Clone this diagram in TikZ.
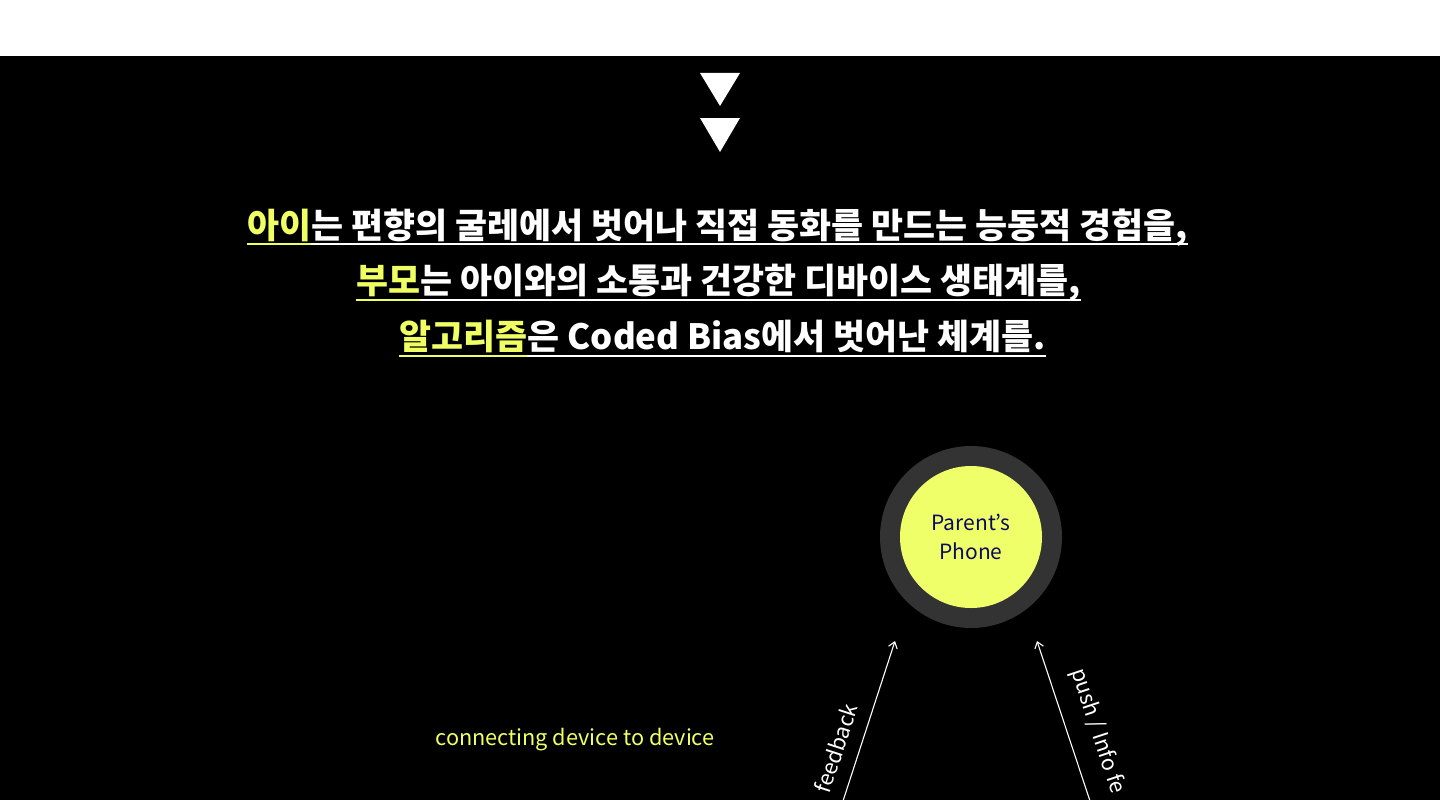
\documentclass[tikz,border=0pt]{standalone}
\usepackage{fontspec}
\setmainfont{Noto Sans CJK KR}
\usetikzlibrary{arrows.meta}
\definecolor{hl}{HTML}{F0FF62}
\definecolor{ringgray}{HTML}{333333}
\definecolor{phoneyellow}{HTML}{EFFF6A}
\definecolor{navy}{HTML}{0B0B5C}
\tikzset{
  headline/.style={inner sep=0pt, anchor=base west, font=\fontsize{34.8}{40}\selectfont\bfseries},
  hlpart/.style={headline, text=hl},
  whpart/.style={headline, text=white},
  uline/.style={line width=1.6pt},
  tri/.style={fill=white},
  flowarrow/.style={draw=white, line width=1.1pt, -{Straight Barb[length=6pt,width=9pt]}},
  arrowlabel/.style={text=white, inner sep=0pt, font=\fontsize{21.5}{25}\selectfont},
}
\begin{document}
\begin{tikzpicture}[x=1pt,y=-1pt]
\useasboundingbox (0,0) rectangle (1440,800);
\clip (0,0) rectangle (1440,800);
\fill[white] (0,0) rectangle (1440,56);
\fill[black] (0,56) rectangle (1440,800);
% triangles
\fill[tri] (700,73) -- (740,73) -- (720,106) -- cycle;
\fill[tri] (700,118) -- (740,118) -- (720,152) -- cycle;
% headline
\node[hlpart] (a1) at (247,238) {아이};
\node[whpart] (b1) at (a1.base east) {는 편향의 굴레에서 벗어나 직접 동화를 만드는 능동적 경험을,};
\node[hlpart] (a2) at (356,293) {부모};
\node[whpart] (b2) at (a2.base east) {는 아이와의 소통과 건강한 디바이스 생태계를,};
\node[hlpart] (a3) at (399,349) {알고리즘};
\node[whpart] (b3) at (a3.base east) {은 Coded Bias에서 벗어난 체계를.};
\draw[uline, hl] (a1.west |- 0,244) -- (a1.east |- 0,244);
\draw[uline, white] (b1.west |- 0,244) -- (b1.east |- 0,244);
\draw[uline, hl] (a2.west |- 0,300) -- (a2.east |- 0,300);
\draw[uline, white] (b2.west |- 0,300) -- (b2.east |- 0,300);
\draw[uline, hl] (a3.west |- 0,356) -- (a3.east |- 0,356);
\draw[uline, white] (b3.west |- 0,356) -- (b3.east |- 0,356);
% parent's phone
\node[circle, fill=ringgray, minimum size=182pt, inner sep=0pt] (ring) at (971,537) {};
\node[circle, fill=phoneyellow, minimum size=142pt, inner sep=0pt, text=navy, align=center,
      font=\fontsize{21}{29}\selectfont] (phone) at (ring.center) {Parent’s\\Phone};
% connectors
\coordinate (fbS) at (843,801);
\coordinate (fbE) at (895,641);
\coordinate (puS) at (1090,801);
\coordinate (puE) at (1037,641);
\draw[flowarrow] (fbS) -- (fbE);
\draw[flowarrow] (puS) -- (puE);
\node[arrowlabel, rotate=71.9] (fbl) at (836,748) {feedback};
\node[arrowlabel, rotate=-71.6, anchor=west] (pul) at (1077,669) {push / Info fe};
% caption
\node[text=hl, inner sep=0pt, font=\fontsize{21.7}{25}\selectfont] (cap) at (575,740) {connecting device to device};
\end{tikzpicture}
\end{document}
